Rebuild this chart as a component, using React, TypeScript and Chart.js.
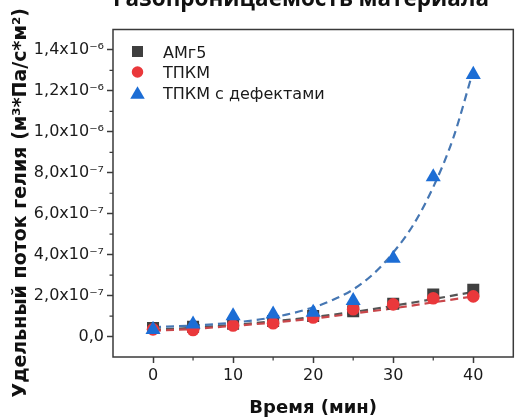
import React, { useEffect, useRef } from 'react';
import { Chart, registerables } from 'chart.js';

Chart.register(...registerables);

// ---- data ----
const TIME = [0, 5, 10, 15, 20, 25, 30, 35, 40];
const SERIES_LABELS = ['АМг5', 'ТПКМ', 'ТПКМ с дефектами'];
const AMG5 = [4.2e-8, 4.8e-8, 6.2e-8, 7.6e-8, 1.0e-7, 1.23e-7, 1.6e-7, 2.05e-7, 2.28e-7];
const TPKM = [3.5e-8, 3.2e-8, 5.4e-8, 6.5e-8, 9.3e-8, 1.33e-7, 1.57e-7, 1.87e-7, 1.96e-7];
const TPKM_DEF = [3.4e-8, 6.0e-8, 1.01e-7, 1.09e-7, 1.18e-7, 1.75e-7, 3.82e-7, 7.8e-7, 1.28e-6];

const FIT_TIME = [0, 5, 10, 15, 20, 25, 30, 35, 40];
const FIT_AMG5 = [3.3e-8, 4.3e-8, 5.7e-8, 7.4e-8, 9.5e-8, 1.2e-7, 1.5e-7, 1.83e-7, 2.18e-7];
const FIT_TPKM = [2.8e-8, 3.7e-8, 5.2e-8, 6.8e-8, 8.8e-8, 1.12e-7, 1.38e-7, 1.67e-7, 1.96e-7];
const FIT_DEF_TIME = [0, 5, 10, 15, 20, 22.5, 25, 27.5, 30, 32.5, 35, 37.5, 40];
const FIT_DEF = [4.6e-8, 5.4e-8, 6.8e-8, 9.4e-8, 1.42e-7, 1.8e-7, 2.3e-7, 3.05e-7, 4.1e-7, 5.45e-7, 7.3e-7, 9.7e-7, 1.3e-6];

const X_TICK_VALUES = [0, 10, 20, 30, 40];
const X_TICK_LABELS = ['0', '10', '20', '30', '40'];
const Y_TICK_VALUES = [0, 2e-7, 4e-7, 6e-7, 8e-7, 1e-6, 1.2e-6, 1.4e-6];
const Y_TICK_LABELS = ['0,0', '2,0x10⁻⁷', '4,0x10⁻⁷', '6,0x10⁻⁷', '8,0x10⁻⁷', '1,0x10⁻⁶', '1,2x10⁻⁶', '1,4x10⁻⁶'];

const TITLE = 'Газопроницаемость материала';
const X_TITLE = 'Время (мин)';
const Y_TITLE = 'Удельный поток гелия (м³*Па/с*м²)';

// ---- styles ----
const FRAME = '#3a3a3a';
const GRAY = '#3f3f3f';
const RED = '#ea383b';
const BLUE = '#1c6dd5';
const FONT = 'DejaVu Sans';

const pts = (xs: number[], ys: number[]) => xs.map((x, i) => ({ x, y: ys[i] }));

function labelFor(values: number[], labels: string[], v: number) {
  let best = -1;
  let bestD = Infinity;
  values.forEach((t, i) => {
    const d = Math.abs(t - v);
    if (d < bestD) {
      bestD = d;
      best = i;
    }
  });
  return best >= 0 ? labels[best] : '';
}

function drawMarker(ctx: CanvasRenderingContext2D, style: string, color: string, cx: number, cy: number, size: number) {
  ctx.fillStyle = color;
  ctx.beginPath();
  if (style === 'rect') {
    ctx.rect(cx - size / 2, cy - size / 2, size, size);
  } else if (style === 'circle') {
    ctx.arc(cx, cy, size / 2, 0, Math.PI * 2);
  } else {
    const h = size * 0.86;
    ctx.moveTo(cx, cy - h / 2);
    ctx.lineTo(cx + size / 2, cy + h / 2);
    ctx.lineTo(cx - size / 2, cy + h / 2);
    ctx.closePath();
  }
  ctx.fill();
}

const decorPlugin = {
  id: 'decor',
  afterDraw(chart: any) {
    const { ctx, chartArea: a } = chart;
    ctx.save();
    // frame
    ctx.strokeStyle = FRAME;
    ctx.lineWidth = 1.5;
    ctx.strokeRect(a.left, a.top, a.right - a.left, a.bottom - a.top);
    // minor ticks between major ticks
    const xs = chart.scales.x;
    const ys = chart.scales.y;
    ctx.lineWidth = 1.2;
    ctx.beginPath();
    const xt = xs.ticks.map((t: any) => t.value);
    for (let i = 0; i < xt.length - 1; i++) {
      const px = xs.getPixelForValue((xt[i] + xt[i + 1]) / 2);
      ctx.moveTo(px, a.bottom);
      ctx.lineTo(px, a.bottom + 3.5);
    }
    const yt = ys.ticks.map((t: any) => t.value);
    for (let i = 0; i < yt.length - 1; i++) {
      const py = ys.getPixelForValue((yt[i] + yt[i + 1]) / 2);
      ctx.moveTo(a.left, py);
      ctx.lineTo(a.left - 3.5, py);
    }
    ctx.stroke();
    // legend
    ctx.font = `16px "${FONT}"`;
    ctx.textBaseline = 'alphabetic';
    ctx.textAlign = 'left';
    let row = 0;
    chart.data.datasets.forEach((ds: any) => {
      if (!ds.inLegend) return;
      const cy = a.top + 22 + row * 20.5;
      drawMarker(ctx, ds.pointStyle, ds.backgroundColor, a.left + 24.5, cy, ds.legendSize);
      ctx.fillStyle = '#1a1a1a';
      ctx.fillText(ds.label, a.left + 50, cy + 6);
      row++;
    });
    ctx.restore();
  },
};

export default function App() {
  const ref = useRef<HTMLCanvasElement | null>(null);

  useEffect(() => {
    if (!ref.current) return;
    const fitLine = (label: string, xs: number[], ys: number[], color: string, order: number) => ({
      label,
      data: pts(xs, ys),
      showLine: true,
      borderColor: color,
      backgroundColor: color,
      borderWidth: 2.2,
      borderDash: [8, 5],
      pointRadius: 0,
      cubicInterpolationMode: 'monotone',
      order,
      inLegend: false,
    });
    const chart = new Chart(ref.current, {
      type: 'scatter',
      data: {
        datasets: [
          {
            label: SERIES_LABELS[0],
            data: pts(TIME, AMG5),
            pointStyle: 'rect',
            pointRadius: 8.5,
            backgroundColor: GRAY,
            borderColor: GRAY,
            borderWidth: 0,
            order: 3,
            inLegend: true,
            legendSize: 11,
          },
          {
            label: SERIES_LABELS[1],
            data: pts(TIME, TPKM),
            pointStyle: 'circle',
            pointRadius: 6.3,
            backgroundColor: RED,
            borderColor: RED,
            borderWidth: 0,
            order: 2,
            inLegend: true,
            legendSize: 11.5,
          },
          {
            label: SERIES_LABELS[2],
            data: pts(TIME, TPKM_DEF),
            pointStyle: 'triangle',
            pointRadius: 8.7,
            backgroundColor: BLUE,
            borderColor: BLUE,
            borderWidth: 0,
            order: 1,
            inLegend: true,
            legendSize: 14.5,
          },
          fitLine('fit1', FIT_TIME, FIT_AMG5, '#555555', 6),
          fitLine('fit2', FIT_TIME, FIT_TPKM, '#c9474b', 5),
          fitLine('fit3', FIT_DEF_TIME, FIT_DEF, '#4677b3', 4),
        ] as any,
      },
      options: {
        animation: false,
        responsive: true,
        maintainAspectRatio: false,
        events: [],
        layout: { padding: { left: 0, right: 5, top: 0, bottom: 0 } },
        plugins: {
          legend: { display: false },
          tooltip: { enabled: false },
          title: {
            display: true,
            text: TITLE,
            fullSize: false,
            align: 'start',
            color: '#111',
            font: { family: 'Open Sans', size: 22.5, weight: 'bold' },
            padding: { top: 6, bottom: 16.5 },
          },
        },
        scales: {
          x: {
            type: 'linear',
            min: -5,
            max: 45,
            afterFit: (s: any) => {
              s.height = 63;
            },
            afterBuildTicks: (s: any) => {
              s.ticks = X_TICK_VALUES.map((value) => ({ value }));
            },
            border: { display: false },
            grid: { drawOnChartArea: false, drawTicks: true, tickLength: 6, tickWidth: 1.5, tickColor: FRAME },
            ticks: {
              autoSkip: false,
              maxRotation: 0,
              padding: 3,
              color: '#1a1a1a',
              font: { family: FONT, size: 16 },
              callback: (v: any) => labelFor(X_TICK_VALUES, X_TICK_LABELS, Number(v)),
            },
            title: {
              display: true,
              text: X_TITLE,
              color: '#111',
              font: { family: FONT, size: 18, weight: 'bold' },
              padding: { top: 0, bottom: 1 },
            },
          },
          y: {
            type: 'linear',
            min: -1e-7,
            max: 1.5e-6,
            afterFit: (s: any) => {
              s.width = 113;
            },
            afterBuildTicks: (s: any) => {
              s.ticks = Y_TICK_VALUES.map((value) => ({ value }));
            },
            border: { display: false },
            grid: { drawOnChartArea: false, drawTicks: true, tickLength: 6, tickWidth: 1.5, tickColor: FRAME },
            ticks: {
              autoSkip: false,
              padding: 3,
              color: '#1a1a1a',
              font: { family: FONT, size: 16 },
              callback: (v: any) => labelFor(Y_TICK_VALUES, Y_TICK_LABELS, Number(v)),
            },
            title: {
              display: true,
              text: Y_TITLE + '\u2003',
              color: '#111',
              font: { family: FONT, size: 19, weight: 'bold' },
              padding: { top: 10, bottom: 0 },
            },
          },
        },
      } as any,
      plugins: [decorPlugin],
    });
    return () => chart.destroy();
  }, []);

  return (
    <div style={{ position: 'absolute', left: 0, top: -20, width: 522, height: 440 }}>
      <canvas ref={ref} />
    </div>
  );
}
